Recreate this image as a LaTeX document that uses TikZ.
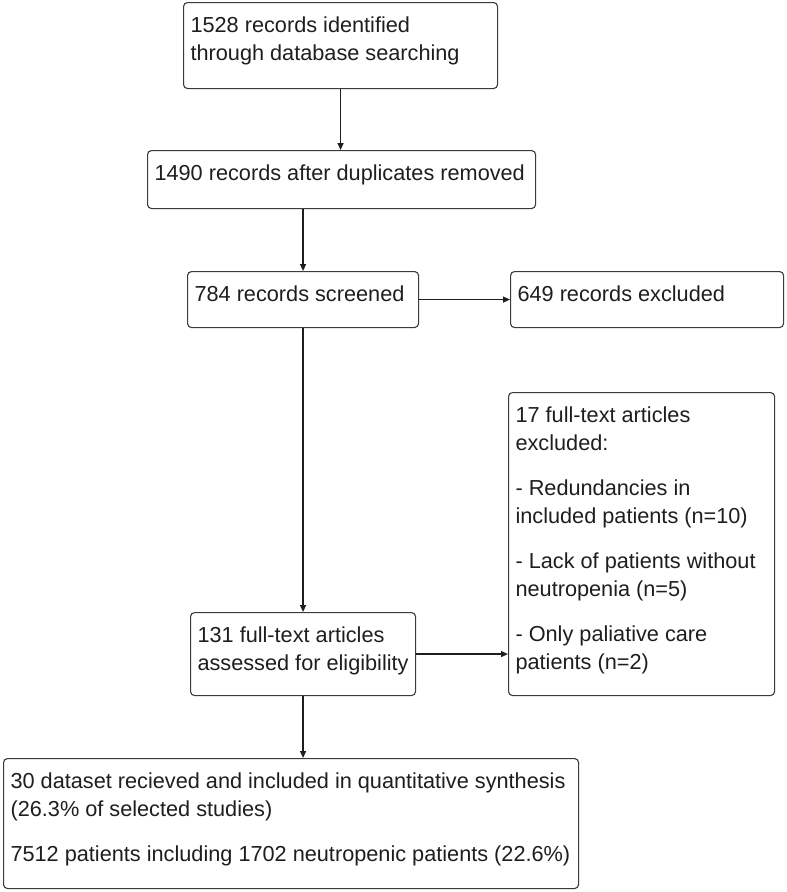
\documentclass[tikz,border=0pt]{standalone}
\usepackage{fontspec}
\setmainfont{Liberation Sans}
\usetikzlibrary{arrows.meta}
\definecolor{ink}{HTML}{1E1E1E}
\definecolor{edge}{HTML}{3A3A3A}
\newcommand\boxtext[3]{\parbox[c][#2pt][t]{#1pt}{\fontsize{21.7}{28}\selectfont\raggedright\setlength\leftskip{7pt}\setlength\parindent{0pt}\vspace*{14pt}#3}}
\newcommand\gap{\par\vspace{17pt}}
\tikzset{
  box/.style={draw=edge, line width=1.1pt, rounded corners=4pt, anchor=north west, inner sep=0pt, text=ink},
  arr/.style={draw=ink, line width=1.2pt, -{Triangle[length=7pt,width=6pt]}}
}
\begin{document}
\begin{tikzpicture}[x=1pt,y=-1pt]
\useasboundingbox (0,0) rectangle (787,892);
\node[box] (b1) at (183,2) {\boxtext{314}{86}{\mbox{1528 records identified}\\\mbox{through database searching}}};
\node[box] (b2) at (147,150) {\boxtext{388}{58}{\mbox{1490 records after duplicates removed}}};
\node[box] (b3) at (187,271) {\boxtext{231}{56}{\mbox{784 records screened}}};
\node[box] (e1) at (510,271) {\boxtext{273}{56}{\mbox{649 records excluded}}};
\node[box] (e2) at (508,392) {\boxtext{266}{303}{\mbox{17 full-text articles}\\\mbox{excluded:}\gap
\mbox{- Redundancies in}\\\mbox{included patients (n=10)}\gap
\mbox{- Lack of patients without}\\\mbox{neutropenia (n=5)}\gap
\mbox{- Only paliative care}\\\mbox{patients (n=2)}}};
\node[box] (b4) at (190,612) {\boxtext{225}{83}{\mbox{131 full-text articles}\\\mbox{assessed for eligibility}}};
\node[box] (b5) at (3,758) {\boxtext{575}{130}{\mbox{30 dataset recieved and included in quantitative synthesis}\\\mbox{(26.3\% of selected studies)}\gap
\mbox{7512 patients including 1702 neutropenic patients (22.6\%)}}};
\draw[arr] (b1.south) -- (b1.south |- b2.north);
\draw[arr] (b3.north |- b2.south) -- (b3.north);
\draw[arr] (b3.east) -- (b3.east -| e1.west);
\draw[arr] (b3.south) -- (b4.north);
\draw[arr] (b4.east) -- (b4.east -| e2.west);
\draw[arr] (b4.south) -- (b4.south |- b5.north);
\end{tikzpicture}
\end{document}
